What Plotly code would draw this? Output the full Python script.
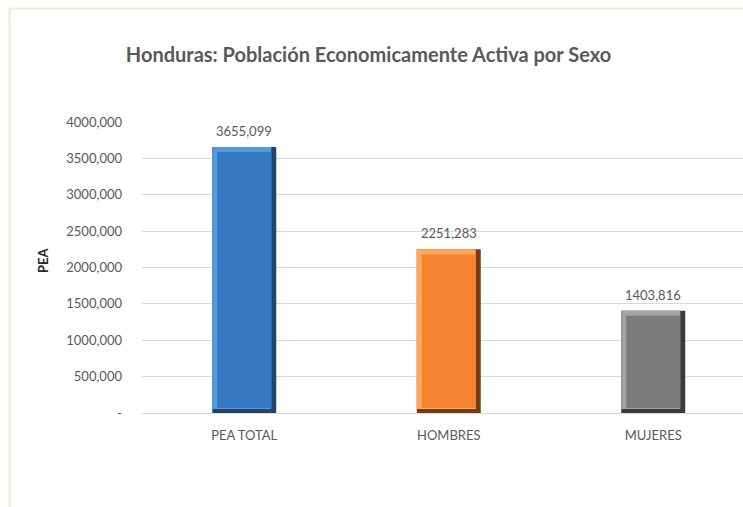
import plotly.graph_objects as go

# Economically active population of Honduras, by sex
categories = ["PEA TOTAL", "HOMBRES", "MUJERES"]
values = [3655099, 2251283, 1403816]

# y-axis ticks and their labels
tick_vals = [0, 500000, 1000000, 1500000, 2000000, 2500000, 3000000, 3500000, 4000000]
tick_text = ["-", "500,000", "1000,000", "1500,000", "2000,000", "2500,000",
             "3000,000", "3500,000", "4000,000"]

# bevel colours per bar: (dark edge, light edge, face)
bar_colors = [
    ("#1d4670", "#5b97d3", "#3479c1"),
    ("#7a3a0c", "#f9a964", "#f5832f"),
    ("#3b3b3b", "#a3a3a3", "#7c7c7c"),
]

W, H = 743, 507
ML, MR, MT, MB = 142, 0, 122, 94
Y_MAX = 4000000

plot_w = W - ML - MR
plot_h = H - MT - MB
px_per_cat = 204.5
x_range = [-0.5, -0.5 + plot_w / px_per_cat]

bar_w = 64 / px_per_cat          # bar width in category units
inset_x = 5 / px_per_cat         # bevel thickness, horizontal
inset_y = 5 * Y_MAX / plot_h     # bevel thickness, vertical

TXT = "#595959"
FONT = "Lato, 'Open Sans', sans-serif"


def px_to_paper_x(px):
    return (px - ML) / plot_w


def px_to_paper_y(py):
    return (H - MB - py) / plot_h


fig = go.Figure()
for i, (cat, v) in enumerate(zip(categories, values)):
    dark, light, face = bar_colors[i]
    # dark outer layer (right / bottom bevel)
    fig.add_trace(go.Bar(x=[cat], y=[v], base=[0], offset=-bar_w / 2, width=bar_w,
                         marker=dict(color=dark, line=dict(width=0)), hoverinfo="skip"))
    # light layer (top / left bevel)
    fig.add_trace(go.Bar(x=[cat], y=[v - inset_y * 0.8], base=[inset_y * 0.8],
                         offset=-bar_w / 2, width=bar_w - inset_x,
                         marker=dict(color=light, line=dict(width=0)), hoverinfo="skip"))
    # bar face
    fig.add_trace(go.Bar(x=[cat], y=[v - 2 * inset_y], base=[inset_y],
                         offset=-bar_w / 2 + inset_x, width=bar_w - 2 * inset_x,
                         marker=dict(color=face, line=dict(width=0)),
                         hovertemplate="%{x}: " + f"{v:,}" + "<extra></extra>"))

# value labels above each bar
for cat, v in zip(categories, values):
    fig.add_annotation(x=cat, y=v, xref="x", yref="y", yshift=16, showarrow=False,
                       text=f"{v // 1000},{v % 1000:03d}",
                       font=dict(family=FONT, size=13, color=TXT))

# y-axis title
fig.add_annotation(x=px_to_paper_x(33), y=px_to_paper_y(260), xref="paper", yref="paper",
                   showarrow=False, text="<b>PEA</b>", textangle=-90,
                   font=dict(family=FONT, size=13, color="#262626"))

# thin peach frame around the chart (runs off the right and bottom edges)
fig.add_shape(type="rect", xref="paper", yref="paper",
              x0=px_to_paper_x(9.5), x1=px_to_paper_x(W + 20),
              y0=px_to_paper_y(H + 20), y1=px_to_paper_y(8.5),
              line=dict(color="#fde3d1", width=2), fillcolor="rgba(0,0,0,0)", layer="below")

fig.update_layout(
    width=W, height=H,
    margin=dict(l=ML, r=MR, t=MT, b=MB, pad=0),
    paper_bgcolor="white", plot_bgcolor="white",
    barmode="overlay", showlegend=False,
    title=dict(text="<b>Honduras: Población Economicamente Activa por Sexo</b>",
               x=368.5 / W, xanchor="center", y=1 - 55 / H, yanchor="middle",
               font=dict(family=FONT, size=20, color=TXT)),
    xaxis=dict(range=x_range, showgrid=False, zeroline=False, showline=False,
               ticks="", tickfont=dict(family=FONT, size=13, color=TXT),
               ticklabelstandoff=13, fixedrange=True),
    yaxis=dict(range=[0, Y_MAX], tickvals=tick_vals, ticktext=tick_text,
               showgrid=True, gridcolor="#d9d9d9", gridwidth=1,
               zeroline=True, zerolinecolor="#d9d9d9", zerolinewidth=1,
               showline=False, ticks="",
               tickfont=dict(family=FONT, size=13, color=TXT),
               ticklabelstandoff=19, fixedrange=True),
)

fig.write_html("out.html")
